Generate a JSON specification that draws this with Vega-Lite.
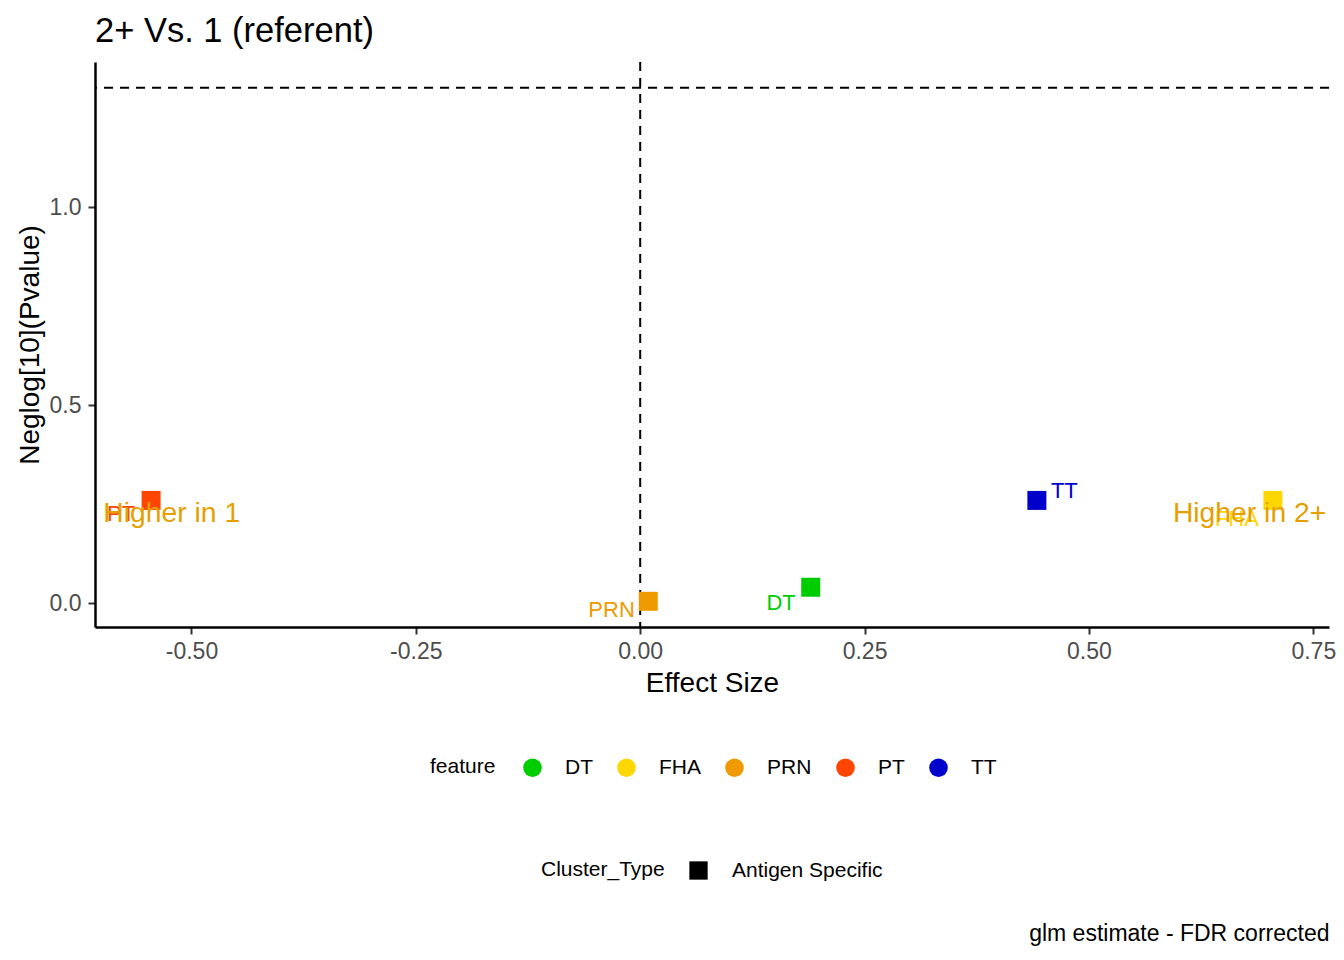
{
  "$schema": "https://vega.github.io/schema/vega-lite/v6.json",
  "width": 1234,
  "height": 565,
  "autosize": {"type": "none"},
  "padding": {"left": 95, "top": 62, "right": 15, "bottom": 333},
  "background": "white",
  "title": {"text": "2+ Vs. 1 (referent)", "anchor": "start", "frame": "group", "fontSize": 34.5, "font": "Liberation Sans", "fontWeight": "normal", "color": "black", "baseline": "alphabetic", "offset": -15},
  "config": {
    "view": {"stroke": null},
    "font": "Liberation Sans",
    "axis": {"grid": false, "domainColor": "black", "domainWidth": 2.5, "tickColor": "#333333", "tickWidth": 2, "tickSize": 7, "labelFont": "Liberation Sans", "labelFontSize": 23, "labelColor": "#4D4D4D", "titleFont": "Liberation Sans", "titleFontSize": 28, "titleFontWeight": "normal", "titleColor": "black"},
    "legend": {"labelFont": "Liberation Sans", "labelFontSize": 21, "labelColor": "black", "titleFont": "Liberation Sans", "titleFontSize": 21, "titleFontWeight": "normal", "titleColor": "black", "padding": 0}
  },
  "datasets": {
    "points": [
      {"feature": "DT", "effect": 0.19, "neglogp": 0.041, "Cluster_Type": "Antigen Specific"},
      {"feature": "FHA", "effect": 0.705, "neglogp": 0.26, "Cluster_Type": "Antigen Specific"},
      {"feature": "PRN", "effect": 0.009, "neglogp": 0.0055, "Cluster_Type": "Antigen Specific"},
      {"feature": "PT", "effect": -0.545, "neglogp": 0.26, "Cluster_Type": "Antigen Specific"},
      {"feature": "TT", "effect": 0.442, "neglogp": 0.26, "Cluster_Type": "Antigen Specific"}
    ],
    "annot": [
      {"label": "Higher in 1", "effect": -0.522, "neglogp": 0.226},
      {"label": "Higher in 2+", "effect": 0.679, "neglogp": 0.226}
    ],
    "vref": [{"effect": 0}],
    "href": [{"neglogp": 1.30103}]
  },
  "resolve": {"axis": {"x": "independent"}},
  "layer": [
    {
      "layer": [
        {
          "data": {"name": "vref"},
          "mark": {"type": "rule", "strokeDash": [9, 7], "strokeWidth": 2, "color": "black"},
          "encoding": {
            "x": {"field": "effect", "type": "quantitative", "title": "Effect Size", "scale": {"domain": [-0.6075, 0.7675], "nice": false, "zero": false}}
          }
        },
        {
          "data": {"name": "href"},
          "mark": {"type": "rule", "strokeDash": [9, 7], "strokeWidth": 2, "color": "black"},
          "encoding": {
            "y": {"field": "neglogp", "type": "quantitative", "title": "Neglog[10](Pvalue)", "scale": {"domain": [-0.0593, 1.3658], "nice": false, "zero": false}}
          }
        },
        {
          "data": {"name": "points"},
          "mark": {"type": "point", "filled": true, "size": 361, "opacity": 1, "strokeWidth": 0},
          "encoding": {
            "x": {"field": "effect", "type": "quantitative", "title": "Effect Size", "scale": {"domain": [-0.6075, 0.7675], "nice": false, "zero": false},
              "axis": {"values": [-0.5, -0.25, 0, 0.25, 0.5, 0.75], "labelExpr": "(datum.value < 0 ? '-' : '') + format(abs(datum.value), '.2f')", "labelPadding": 6, "titleY": 64, "titleBaseline": "alphabetic"}},
            "y": {"field": "neglogp", "type": "quantitative", "title": "Neglog[10](Pvalue)", "scale": {"domain": [-0.0593, 1.3658], "nice": false, "zero": false},
              "axis": {"values": [0, 0.5, 1], "labelExpr": "format(datum.value, '.1f')", "labelPadding": 7, "titleX": -57, "titleY": 282.5, "titleBaseline": "alphabetic", "titleAngle": -90}},
            "color": {"field": "feature", "type": "nominal", "scale": {"domain": ["DT", "FHA", "PRN", "PT", "TT"], "range": ["#00CD00", "#FFD700", "#EE9A00", "#FF4500", "#0000CD"]},
              "legend": {"title": "feature", "orient": "none", "legendX": 335, "legendY": 695, "direction": "horizontal", "titleOrient": "left", "symbolType": "circle", "symbolSize": 346, "symbolStrokeWidth": 0, "labelOffset": 22, "columnPadding": 23, "titlePadding": 26}},
            "shape": {"field": "Cluster_Type", "type": "nominal", "scale": {"domain": ["Antigen Specific"], "range": ["square"]},
              "legend": {"title": "Cluster_Type", "orient": "none", "legendX": 446, "legendY": 798, "direction": "horizontal", "titleOrient": "left", "symbolSize": 335, "symbolFillColor": "black", "symbolStrokeColor": "black", "symbolStrokeWidth": 0, "labelOffset": 23, "titlePadding": 23}}
          }
        },
        {
          "data": {"name": "points"},
          "transform": [{"filter": "datum.feature === 'PT'"}],
          "mark": {"type": "text", "fontSize": 22, "align": "right", "baseline": "middle", "dx": -16, "dy": 14},
          "encoding": {
            "x": {"field": "effect", "type": "quantitative", "title": "Effect Size", "scale": {"domain": [-0.6075, 0.7675], "nice": false, "zero": false}},
            "y": {"field": "neglogp", "type": "quantitative", "title": "Neglog[10](Pvalue)", "scale": {"domain": [-0.0593, 1.3658], "nice": false, "zero": false}},
            "text": {"field": "feature"},
            "color": {"field": "feature", "type": "nominal"}
          }
        },
        {
          "data": {"name": "points"},
          "transform": [{"filter": "datum.feature === 'PRN'"}],
          "mark": {"type": "text", "fontSize": 22, "align": "right", "baseline": "middle", "dx": -13.5, "dy": 9},
          "encoding": {
            "x": {"field": "effect", "type": "quantitative", "title": "Effect Size", "scale": {"domain": [-0.6075, 0.7675], "nice": false, "zero": false}},
            "y": {"field": "neglogp", "type": "quantitative", "title": "Neglog[10](Pvalue)", "scale": {"domain": [-0.0593, 1.3658], "nice": false, "zero": false}},
            "text": {"field": "feature"},
            "color": {"field": "feature", "type": "nominal"}
          }
        },
        {
          "data": {"name": "points"},
          "transform": [{"filter": "datum.feature === 'DT'"}],
          "mark": {"type": "text", "fontSize": 22, "align": "right", "baseline": "middle", "dx": -15, "dy": 16},
          "encoding": {
            "x": {"field": "effect", "type": "quantitative", "title": "Effect Size", "scale": {"domain": [-0.6075, 0.7675], "nice": false, "zero": false}},
            "y": {"field": "neglogp", "type": "quantitative", "title": "Neglog[10](Pvalue)", "scale": {"domain": [-0.0593, 1.3658], "nice": false, "zero": false}},
            "text": {"field": "feature"},
            "color": {"field": "feature", "type": "nominal"}
          }
        },
        {
          "data": {"name": "points"},
          "transform": [{"filter": "datum.feature === 'FHA'"}],
          "mark": {"type": "text", "fontSize": 22, "align": "right", "baseline": "middle", "dx": -14, "dy": 19},
          "encoding": {
            "x": {"field": "effect", "type": "quantitative", "title": "Effect Size", "scale": {"domain": [-0.6075, 0.7675], "nice": false, "zero": false}},
            "y": {"field": "neglogp", "type": "quantitative", "title": "Neglog[10](Pvalue)", "scale": {"domain": [-0.0593, 1.3658], "nice": false, "zero": false}},
            "text": {"field": "feature"},
            "color": {"field": "feature", "type": "nominal"}
          }
        },
        {
          "data": {"name": "points"},
          "transform": [{"filter": "datum.feature === 'TT'"}],
          "mark": {"type": "text", "fontSize": 22, "align": "left", "baseline": "middle", "dx": 14, "dy": -9},
          "encoding": {
            "x": {"field": "effect", "type": "quantitative", "title": "Effect Size", "scale": {"domain": [-0.6075, 0.7675], "nice": false, "zero": false}},
            "y": {"field": "neglogp", "type": "quantitative", "title": "Neglog[10](Pvalue)", "scale": {"domain": [-0.0593, 1.3658], "nice": false, "zero": false}},
            "text": {"field": "feature"},
            "color": {"field": "feature", "type": "nominal"}
          }
        }
      ]
    },
    {
      "data": {"name": "annot"},
      "mark": {"type": "text", "fontSize": 28.3, "color": "#E69F00", "align": "center", "baseline": "middle"},
      "encoding": {
        "x": {"field": "effect", "type": "quantitative", "scale": {"domain": [-0.6075, 0.7675], "nice": false, "zero": false},
          "axis": {"orient": "bottom", "labels": false, "ticks": false, "domain": false, "grid": false, "title": "glm estimate - FDR corrected", "titleFontSize": 23, "titleAnchor": "end", "titleAlign": "right", "titleBaseline": "alphabetic", "titleX": 1234, "titleY": 313, "titleColor": "black"}},
        "y": {"field": "neglogp", "type": "quantitative", "title": "Neglog[10](Pvalue)", "scale": {"domain": [-0.0593, 1.3658], "nice": false, "zero": false}},
        "text": {"field": "label"}
      }
    }
  ]
}
